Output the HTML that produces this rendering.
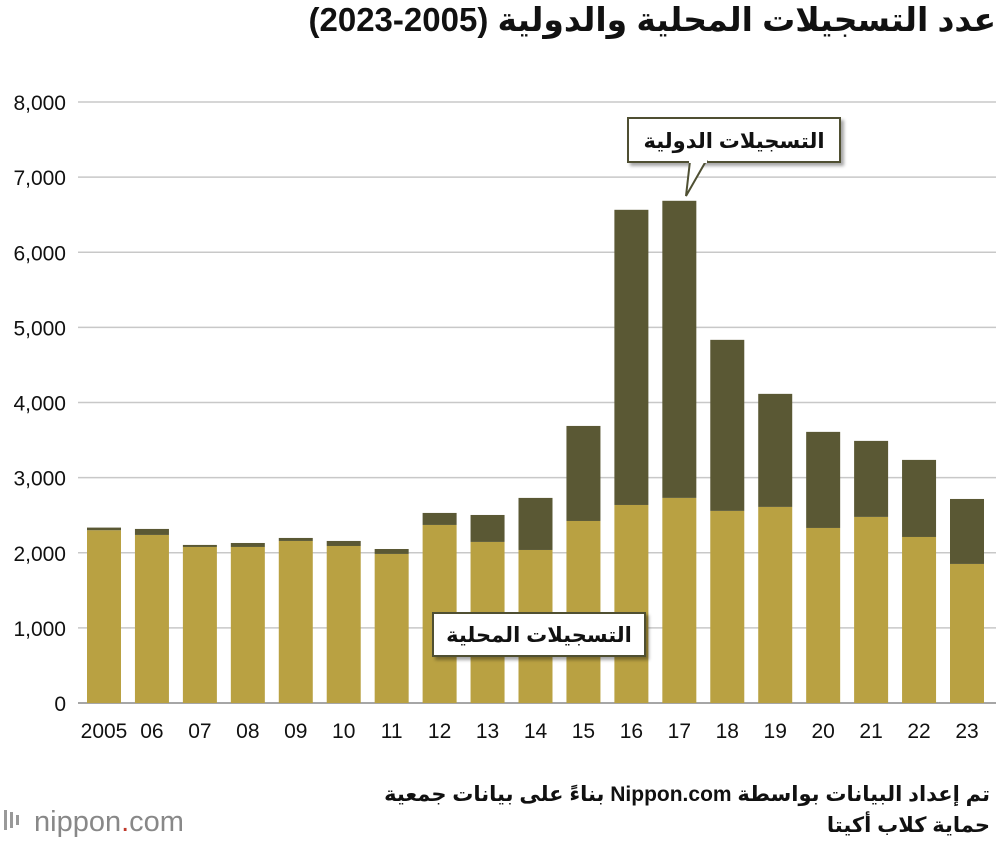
<!DOCTYPE html>
<html lang="ar"><head><meta charset="utf-8">
<style>
body{margin:0;background:#fff;width:1000px;height:846px;overflow:hidden;font-family:"Liberation Sans","DejaVu Sans",sans-serif;position:relative}
.rt{position:absolute;right:6px;direction:rtl;text-align:right;color:#111;white-space:nowrap}
</style></head>
<body>
<div class="rt" style="top:0px;font-size:33px;font-weight:bold;right:4px">عدد التسجيلات المحلية والدولية (2005-2023)</div>
<div class="rt" style="top:782px;font-size:21px;font-weight:bold;right:10px">تم إعداد البيانات بواسطة Nippon.com بناءً على بيانات جمعية</div>
<div class="rt" style="top:813px;font-size:21px;font-weight:bold;right:10px">حماية كلاب أكيتا</div>
<svg id="chart" width="1000" height="846" xmlns="http://www.w3.org/2000/svg" style="position:absolute;left:0;top:0;z-index:-1">
<defs><filter id="sh" x="-10%" y="-10%" width="130%" height="140%"><feDropShadow dx="3" dy="3" stdDeviation="1.5" flood-color="#000" flood-opacity="0.35"/></filter></defs>
<g id="grid"></g><g id="bars"></g><g id="xlabels"></g>
<g>
<rect x="628" y="118" width="212" height="44" fill="#fff" stroke="#4f5033" stroke-width="2" filter="url(#sh)"/>
<polygon points="690,161 706,161 686,196" fill="#fff" stroke="#4f5033" stroke-width="2"/>
<rect x="689" y="158" width="18" height="5" fill="#fff"/>
<text x="734" y="148" text-anchor="middle" font-size="21" font-weight="bold" fill="#111">التسجيلات الدولية</text>
</g>
<g>
<rect x="433" y="613" width="212" height="43" fill="#fff" stroke="#4f5033" stroke-width="2" filter="url(#sh)"/>
<text x="539" y="642" text-anchor="middle" font-size="21" font-weight="bold" fill="#111">التسجيلات المحلية</text>
</g>
<g>
<rect x="4" y="810" width="3" height="20" fill="#999"/><rect x="10" y="812" width="3" height="16" fill="#999"/><rect x="16" y="815" width="3" height="10" fill="#999"/>
<text x="34" y="831" font-size="29" fill="#888">nippon<tspan fill="#c0392b">.</tspan>com</text>
</g>
</svg>
<script>
const years=["2005","06","07","08","09","10","11","12","13","14","15","16","17","18","19","20","21","22","23"];
const domestic=[2300,2237,2077,2077,2157,2090,1984,2370,2144,2037,2423,2636,2730,2557,2610,2330,2477,2210,1851];
const total=[2335,2317,2104,2130,2197,2157,2050,2530,2503,2730,3688,6565,6685,4834,4115,3609,3489,3236,2716];
const yTicks=[0,1000,2000,3000,4000,5000,6000,7000,8000];
const tickLabels=["0","1,000","2,000","3,000","4,000","5,000","6,000","7,000","8,000"];
const NS="http://www.w3.org/2000/svg";
const y0=703,yTop=102,maxV=8000;
const y=v=>y0-(v/maxV)*(y0-yTop);
const x0=104,step=(967-104)/(years.length-1),bw=34;
const x=i=>x0+i*step;
function mk(t,a){const e=document.createElementNS(NS,t);for(const k in a)e.setAttribute(k,a[k]);return e;}
const grid=document.getElementById('grid');
yTicks.forEach((v,i)=>{
 const l=mk('line',{x1:78,x2:996,y1:y(v),y2:y(v),stroke:v===0?'#888':'#c8c8c8','stroke-width':1.5});
 
 
 grid.appendChild(l);
 const t=mk('text',{x:66,y:y(v)+8,'text-anchor':'end','font-size':21,fill:'#111'});
 t.textContent=tickLabels[i];
 
 
 grid.appendChild(t);
});
const bars=document.getElementById('bars'),xl=document.getElementById('xlabels');
years.forEach((yr,i)=>{
 const d=mk('rect',{x:x(i)-bw/2,y:y(domestic[i]),width:bw,height:y0-y(domestic[i]),fill:'#b9a142'});
 
 
 bars.appendChild(d);
 const it=mk('rect',{x:x(i)-bw/2,y:y(total[i]),width:bw,height:y(domestic[i])-y(total[i]),fill:'#5a5834'});
 
 
 bars.appendChild(it);
 const t=mk('text',{x:x(i),y:738,'text-anchor':'middle','font-size':21,fill:'#111'});
 t.textContent=yr;
 
 
 xl.appendChild(t);
});
</script>
</body></html>
